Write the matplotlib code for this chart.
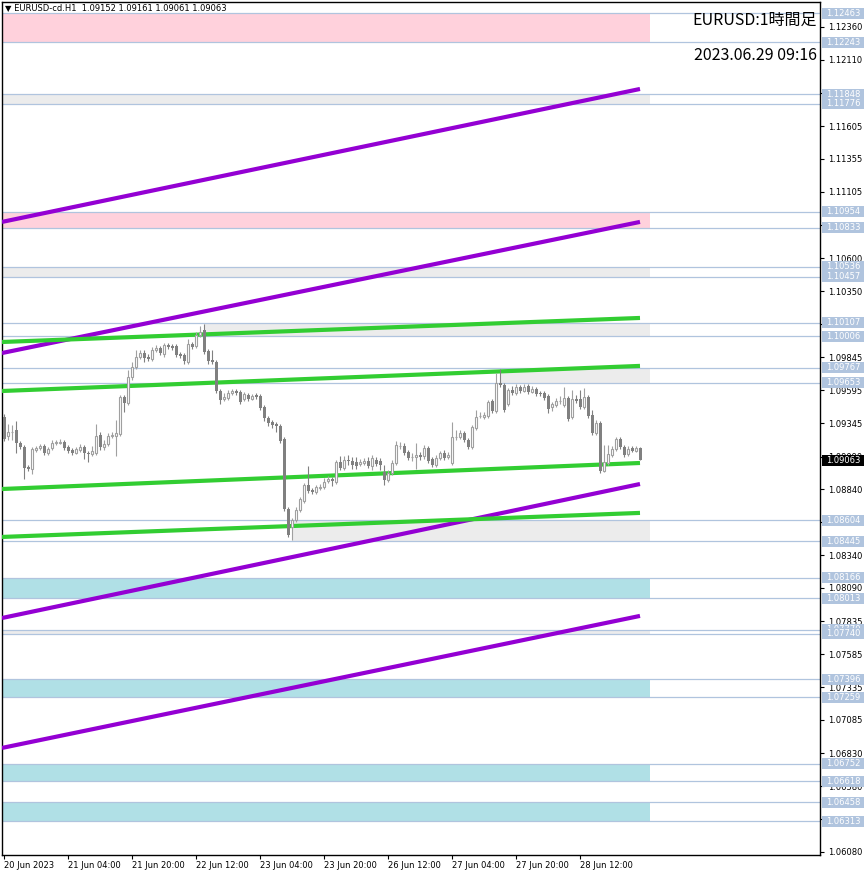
import numpy as np
import pandas as pd
import matplotlib
matplotlib.use('Agg')
import matplotlib.pyplot as plt
from matplotlib.patches import Rectangle

# hourly OHLC, EURUSD H1 from 20 Jun 2023 12:00 (server time)
opens = [1.09390, 1.09246, 1.09276, 1.09291, 1.09192, 1.09162, 1.09010, 1.08994, 1.09139, 1.09154,
         1.09170, 1.09116, 1.09154, 1.09192, 1.09192, 1.09200, 1.09162, 1.09139, 1.09116, 1.09139,
         1.09162, 1.09116, 1.09109, 1.09116, 1.09253, 1.09162, 1.09185, 1.09246, 1.09246, 1.09261,
         1.09542, 1.09497, 1.09695, 1.09771, 1.09847, 1.09877, 1.09847, 1.09832, 1.09900, 1.09915,
         1.09870, 1.09938, 1.09931, 1.09931, 1.09870, 1.09862, 1.09809, 1.09946, 1.09931, 1.10014,
         1.10052, 1.09893, 1.09824, 1.09809, 1.09588, 1.09527, 1.09535, 1.09573, 1.09588, 1.09580,
         1.09527, 1.09558, 1.09527, 1.09558, 1.09550, 1.09466, 1.09383, 1.09352, 1.09337, 1.09322,
         1.09223, 1.08690, 1.08553, 1.08607, 1.08683, 1.08751, 1.08873, 1.08835, 1.08819, 1.08850,
         1.08857, 1.08903, 1.08918, 1.08895, 1.09048, 1.09002, 1.09063, 1.09055, 1.09048, 1.09033,
         1.09040, 1.09055, 1.09017, 1.09063, 1.09055, 1.08972, 1.08911, 1.08964, 1.09040, 1.09170,
         1.09170, 1.09124, 1.09086, 1.09086, 1.09101, 1.09093, 1.09154, 1.09071, 1.09025, 1.09078,
         1.09116, 1.09086, 1.09040, 1.09238, 1.09238, 1.09269, 1.09215, 1.09162, 1.09307, 1.09398,
         1.09390, 1.09398, 1.09512, 1.09436, 1.09649, 1.09634, 1.09489, 1.09596, 1.09573, 1.09619,
         1.09588, 1.09626, 1.09580, 1.09603, 1.09573, 1.09573, 1.09550, 1.09466, 1.09482, 1.09512,
         1.09482, 1.09535, 1.09390, 1.09527, 1.09527, 1.09466, 1.09542, 1.09405, 1.09269, 1.09345,
         1.08979, 1.09040, 1.09101, 1.09147, 1.09223, 1.09162, 1.09109, 1.09154, 1.09132, 1.09152]
highs = [1.09413, 1.09337, 1.09329, 1.09360, 1.09208, 1.09177, 1.09025, 1.09162, 1.09170, 1.09185,
         1.09185, 1.09162, 1.09215, 1.09215, 1.09223, 1.09215, 1.09177, 1.09154, 1.09162, 1.09185,
         1.09177, 1.09132, 1.09170, 1.09337, 1.09276, 1.09215, 1.09269, 1.09276, 1.09367, 1.09558,
         1.09558, 1.09748, 1.09809, 1.09900, 1.09900, 1.09900, 1.09870, 1.09923, 1.09938, 1.09931,
         1.09953, 1.09953, 1.09946, 1.09946, 1.09885, 1.09877, 1.09984, 1.09961, 1.10037, 1.10083,
         1.10098, 1.09908, 1.09900, 1.09824, 1.09603, 1.09573, 1.09596, 1.09603, 1.09603, 1.09596,
         1.09580, 1.09573, 1.09565, 1.09573, 1.09565, 1.09482, 1.09398, 1.09367, 1.09352, 1.09337,
         1.09238, 1.08705, 1.08622, 1.08705, 1.08781, 1.08888, 1.09017, 1.08850, 1.08873, 1.08880,
         1.08926, 1.08941, 1.08934, 1.09063, 1.09093, 1.09093, 1.09101, 1.09086, 1.09086, 1.09071,
         1.09078, 1.09086, 1.09101, 1.09086, 1.09078, 1.09025, 1.08987, 1.09063, 1.09208, 1.09200,
         1.09192, 1.09139, 1.09116, 1.09192, 1.09124, 1.09177, 1.09170, 1.09086, 1.09101, 1.09132,
         1.09139, 1.09124, 1.09352, 1.09291, 1.09291, 1.09284, 1.09230, 1.09329, 1.09444, 1.09428,
         1.09428, 1.09520, 1.09527, 1.09725, 1.09756, 1.09649, 1.09611, 1.09626, 1.09641, 1.09634,
         1.09641, 1.09641, 1.09626, 1.09619, 1.09588, 1.09588, 1.09565, 1.09504, 1.09535, 1.09550,
         1.09619, 1.09550, 1.09596, 1.09558, 1.09596, 1.09611, 1.09558, 1.09444, 1.09367, 1.09360,
         1.09177, 1.09177, 1.09170, 1.09238, 1.09238, 1.09177, 1.09170, 1.09170, 1.09170, 1.09161]
lows = [1.09208, 1.09215, 1.09215, 1.09116, 1.09147, 1.08918, 1.08979, 1.08956, 1.09124, 1.09139,
        1.09101, 1.09101, 1.09139, 1.09177, 1.09185, 1.09139, 1.09116, 1.09101, 1.09109, 1.09124,
        1.09071, 1.09048, 1.09093, 1.09101, 1.09139, 1.09139, 1.09170, 1.09230, 1.09093, 1.09246,
        1.09428, 1.09482, 1.09672, 1.09756, 1.09832, 1.09809, 1.09816, 1.09816, 1.09885, 1.09862,
        1.09847, 1.09908, 1.09900, 1.09847, 1.09839, 1.09794, 1.09794, 1.09908, 1.09915, 1.09999,
        1.09870, 1.09794, 1.09794, 1.09573, 1.09489, 1.09512, 1.09520, 1.09558, 1.09558, 1.09489,
        1.09512, 1.09512, 1.09520, 1.09527, 1.09444, 1.09360, 1.09322, 1.09307, 1.09276, 1.09192,
        1.08675, 1.08477, 1.08454, 1.08591, 1.08667, 1.08736, 1.08812, 1.08804, 1.08804, 1.08835,
        1.08842, 1.08888, 1.08865, 1.08880, 1.08987, 1.08987, 1.09025, 1.08994, 1.08994, 1.09017,
        1.09025, 1.09002, 1.08987, 1.09017, 1.08987, 1.08873, 1.08895, 1.08949, 1.09025, 1.09147,
        1.09101, 1.09063, 1.09055, 1.08994, 1.09063, 1.09071, 1.09040, 1.09010, 1.09010, 1.09063,
        1.09063, 1.09071, 1.09025, 1.09215, 1.09223, 1.09200, 1.09147, 1.09147, 1.09291, 1.09383,
        1.09375, 1.09383, 1.09421, 1.09421, 1.09619, 1.09428, 1.09474, 1.09558, 1.09558, 1.09573,
        1.09580, 1.09565, 1.09573, 1.09550, 1.09550, 1.09520, 1.09421, 1.09436, 1.09466, 1.09489,
        1.09466, 1.09360, 1.09375, 1.09497, 1.09451, 1.09451, 1.09383, 1.09253, 1.09253, 1.08964,
        1.08972, 1.09025, 1.09086, 1.09132, 1.09147, 1.09086, 1.09093, 1.09124, 1.09124, 1.09061]
closes = [1.09223, 1.09276, 1.09276, 1.09192, 1.09162, 1.09002, 1.08994, 1.09147, 1.09154, 1.09170,
          1.09116, 1.09147, 1.09192, 1.09200, 1.09200, 1.09154, 1.09132, 1.09116, 1.09147, 1.09162,
          1.09116, 1.09109, 1.09132, 1.09246, 1.09162, 1.09185, 1.09246, 1.09253, 1.09269, 1.09542,
          1.09497, 1.09695, 1.09771, 1.09847, 1.09877, 1.09839, 1.09832, 1.09900, 1.09915, 1.09877,
          1.09938, 1.09923, 1.09915, 1.09862, 1.09854, 1.09816, 1.09946, 1.09923, 1.10014, 1.10037,
          1.09885, 1.09816, 1.09809, 1.09588, 1.09520, 1.09542, 1.09573, 1.09588, 1.09573, 1.09504,
          1.09565, 1.09527, 1.09550, 1.09542, 1.09459, 1.09383, 1.09345, 1.09329, 1.09322, 1.09208,
          1.08690, 1.08492, 1.08607, 1.08683, 1.08766, 1.08873, 1.08827, 1.08819, 1.08857, 1.08857,
          1.08895, 1.08918, 1.08903, 1.09048, 1.09002, 1.09063, 1.09055, 1.09025, 1.09017, 1.09048,
          1.09055, 1.09017, 1.09078, 1.09033, 1.09025, 1.08911, 1.08964, 1.09040, 1.09177, 1.09170,
          1.09116, 1.09078, 1.09086, 1.09101, 1.09086, 1.09154, 1.09055, 1.09025, 1.09078, 1.09116,
          1.09078, 1.09101, 1.09238, 1.09238, 1.09269, 1.09215, 1.09162, 1.09314, 1.09390, 1.09398,
          1.09405, 1.09504, 1.09436, 1.09649, 1.09634, 1.09444, 1.09596, 1.09573, 1.09619, 1.09588,
          1.09619, 1.09580, 1.09603, 1.09565, 1.09565, 1.09535, 1.09451, 1.09489, 1.09512, 1.09512,
          1.09535, 1.09375, 1.09527, 1.09512, 1.09466, 1.09542, 1.09398, 1.09269, 1.09345, 1.08979,
          1.09048, 1.09109, 1.09147, 1.09223, 1.09162, 1.09101, 1.09147, 1.09132, 1.09154, 1.09063]

# horizontal zones (top, bottom, kind, first bar or None = from the left edge)
zone_top = [1.12463, 1.11848, 1.10954, 1.10536, 1.10107, 1.09767, 1.08604,
            1.08166, 1.07770, 1.07396, 1.06752, 1.06458]
zone_bottom = [1.12243, 1.11776, 1.10833, 1.10457, 1.10006, 1.09653, 1.08445,
               1.08013, 1.07740, 1.07259, 1.06618, 1.06313]
zone_kind = ['res', 'flip', 'res', 'flip', 'flip', 'flip', 'flip',
             'sup', 'flip', 'sup', 'sup', 'sup']
zone_from = [None, None, None, None, '2023-06-22 14:00', '2023-06-27 16:00', '2023-06-23 12:00',
             None, None, None, None, None]

# trend channel lines: price at left edge / at last bar
purple_start = [1.10876, 1.09878, 1.07861, 1.06872]
purple_end = [1.11888, 1.10876, 1.08881, 1.07877]
green_start = [1.09962, 1.09589, 1.08843, 1.08478]
green_end = [1.10145, 1.09780, 1.09041, 1.08661]

y_ticks = [1.12360, 1.12110, 1.11855, 1.11605, 1.11355, 1.11105, 1.10850, 1.10600, 1.10350,
           1.10100, 1.09845, 1.09595, 1.09345, 1.09090, 1.08840, 1.08590, 1.08340, 1.08090,
           1.07835, 1.07585, 1.07335, 1.07085, 1.06830, 1.06580, 1.06330, 1.06080]
x_tick_times = ['2023-06-20 12:00', '2023-06-21 04:00', '2023-06-21 20:00', '2023-06-22 12:00',
                '2023-06-23 04:00', '2023-06-23 20:00', '2023-06-26 12:00', '2023-06-27 04:00',
                '2023-06-27 20:00', '2023-06-28 12:00']
x_tick_labels = ['20 Jun 2023', '21 Jun 04:00', '21 Jun 20:00', '22 Jun 12:00', '23 Jun 04:00',
                 '23 Jun 20:00', '26 Jun 12:00', '27 Jun 04:00', '27 Jun 20:00', '28 Jun 12:00']

plt.rcParams['font.family'] = ['DejaVu Sans']

opens = np.array(opens)
highs = np.array(highs)
lows = np.array(lows)
closes = np.array(closes)
n = len(opens)

# bar times, skipping the weekend
times = []
t = pd.Timestamp('2023-06-20 12:00')
while len(times) < n:
    if t.weekday() < 5:
        times.append(t)
    t += pd.Timedelta(hours=1)
bar_of = {tm: i for i, tm in enumerate(times)}
x = np.arange(n)

fig = plt.figure(figsize=(8.66, 8.76), dpi=100)
ax = fig.add_axes([2 / 866, 21 / 876, 818 / 866, 853 / 876])
x_left = -0.5
x_right = 204
y_lo, y_hi = 1.06057, 1.12550
ax.set_xlim(x_left, x_right)
ax.set_ylim(y_lo, y_hi)
px = (y_hi - y_lo) / 853  # price per pixel

zone_colors = {'res': '#ffd1dc', 'sup': '#b0e0e6', 'flip': '#ececec'}
line_col = '#b0c4de'
zone_end = n + 1.5
for top, bot, kind, start in zip(zone_top, zone_bottom, zone_kind, zone_from):
    x0 = x_left if start is None else bar_of[pd.Timestamp(start)]
    ax.fill_between([x0, zone_end], bot, top, color=zone_colors[kind], lw=0, zorder=0)
    ax.axhline(top, color=line_col, lw=0.9, zorder=1)
    ax.axhline(bot, color=line_col, lw=0.9, zorder=1)

for p0, p1 in zip(purple_start, purple_end):
    ax.plot([x_left, n - 1], [p0, p1], color='#9400d3', lw=3, solid_capstyle='butt', zorder=3)
for p0, p1 in zip(green_start, green_end):
    ax.plot([x_left, n - 1], [p0, p1], color='#32cd32', lw=3, solid_capstyle='butt', zorder=3)

# candles
up = closes >= opens
dn = ~up
bull_col = '#a0a0a0'
bear_col = '#808080'
ax.vlines(x[up], lows[up], highs[up], color=bull_col, lw=0.8, zorder=4)
ax.vlines(x[dn], lows[dn], highs[dn], color=bear_col, lw=0.8, zorder=4)
ax.bar(x[up], closes[up] - opens[up], bottom=opens[up], width=0.55,
       facecolor='white', edgecolor=bull_col, lw=0.8, zorder=5)
ax.bar(x[dn], closes[dn] - opens[dn], bottom=opens[dn], width=0.75,
       color=bear_col, lw=0, zorder=5)

# axes look
for side in ['left', 'top', 'right', 'bottom']:
    ax.spines[side].set_color('black')
    ax.spines[side].set_linewidth(1)
ax.yaxis.tick_right()
ax.set_yticks(y_ticks)
ax.set_yticklabels([f'{v:.5f}' for v in y_ticks])
ax.tick_params(axis='y', length=3, pad=3, labelsize=6, colors='black')
ax.set_xticks([bar_of[pd.Timestamp(s)] for s in x_tick_times])
ax.set_xticklabels(x_tick_labels)
ax.tick_params(axis='x', length=3, pad=1, labelsize=6)
for lab in ax.get_xticklabels():
    lab.set_ha('left')

# price labels on the right: fixed-size boxes that hide the axis labels below them
ytr = ax.get_yaxis_transform()
box_x0 = 820 / 818
box_w = 42 / 818
box_h = 11 * px


def price_tag(v, fc, z):
    ax.add_patch(Rectangle((box_x0, v - box_h / 2), box_w, box_h, transform=ytr,
                           fc=fc, ec='none', clip_on=False, zorder=z))
    ax.text(box_x0 + box_w / 2, v, f'{v:.5f}', transform=ytr, ha='center', va='center',
            fontsize=6, color='white', clip_on=False, zorder=z + 0.5)


z = 10
for top, bot in zip(zone_top, zone_bottom):
    for v in (top, bot):
        price_tag(v, line_col, z)
        z += 1
price_tag(closes[-1], 'black', z)

# header and titles
ax.text(0.004, 0.9935, '\u25bc EURUSD-cd.H1  %.5f %.5f %.5f %.5f'
        % (opens[-1], highs[-1], lows[-1], closes[-1]),
        transform=ax.transAxes, ha='left', va='center', fontsize=6, zorder=12)
jp = ['Noto Sans CJK JP', 'DejaVu Sans']
fig.text(817 / 866, 1 - 20 / 876, 'EURUSD:1時間足', ha='right', va='center',
         fontsize=11.5, family=jp)
fig.text(817 / 866, 1 - 55 / 876, '2023.06.29 09:16', ha='right', va='center',
         fontsize=11.5, family=jp)

fig.savefig('out.png', dpi=100)
